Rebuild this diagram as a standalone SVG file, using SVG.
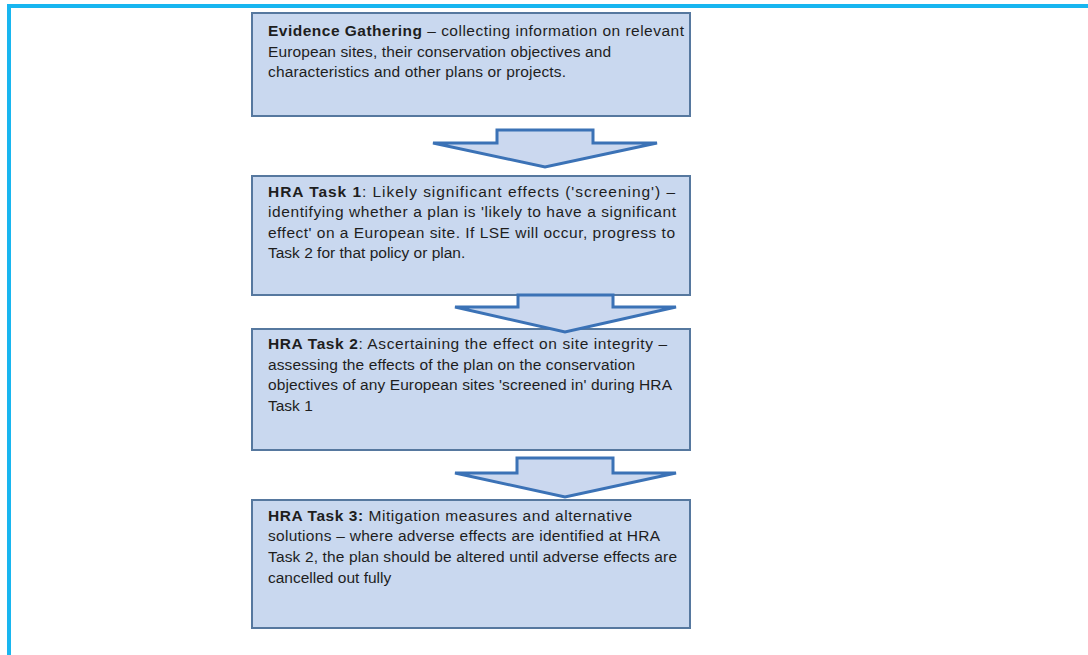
<svg xmlns="http://www.w3.org/2000/svg" width="1088" height="655" viewBox="0 0 1088 655">
<style>
.box{fill:#c9d8ef;stroke:#56789f;stroke-width:2}
.arr{fill:#cbd8ef;stroke:#3b72b6;stroke-width:3;stroke-linejoin:miter}
text{font-family:"Liberation Sans",Arial,sans-serif;font-size:15.5px;fill:#1e1e1e}
.b{font-weight:bold}
</style>
<rect x="0" y="0" width="1088" height="655" fill="#ffffff"/>
<rect x="9" y="6" width="1100" height="700" fill="none" stroke="#18b6f0" stroke-width="4"/>
<g id="box1">
<rect class="box" x="252" y="13" width="438" height="103"/>
<text x="268" y="36" textLength="416" lengthAdjust="spacing"><tspan class="b">Evidence Gathering</tspan> – collecting information on relevant</text>
<text x="268" y="57" textLength="343" lengthAdjust="spacing">European sites, their conservation objectives and</text>
<text x="268" y="77" textLength="298" lengthAdjust="spacing">characteristics and other plans or projects.</text>
</g>
<g id="box2">
<rect class="box" x="252" y="176" width="438" height="119"/>
<text x="268" y="197" textLength="407" lengthAdjust="spacing"><tspan class="b">HRA Task 1</tspan>:  Likely significant effects ('screening') –</text>
<text x="268" y="217" textLength="408" lengthAdjust="spacing">identifying whether a plan is 'likely to have a significant</text>
<text x="268" y="238" textLength="407" lengthAdjust="spacing">effect' on a European site. If LSE will occur, progress to</text>
<text x="268" y="258">Task 2 for that policy or plan.</text>
</g>
<g id="box3">
<rect class="box" x="252" y="329" width="438" height="121"/>
<text x="268" y="349" textLength="399" lengthAdjust="spacing"><tspan class="b">HRA Task 2</tspan>:  Ascertaining the effect on site integrity –</text>
<text x="268" y="370" textLength="367" lengthAdjust="spacing">assessing the effects of the plan on the conservation</text>
<text x="268" y="390" textLength="404" lengthAdjust="spacing">objectives of any European sites 'screened in' during HRA</text>
<text x="268" y="411">Task 1</text>
</g>
<g id="box4">
<rect class="box" x="252" y="500" width="438" height="128"/>
<text x="268" y="521" textLength="364" lengthAdjust="spacing"><tspan class="b">HRA Task 3:</tspan>  Mitigation measures and alternative</text>
<text x="268" y="541" textLength="392" lengthAdjust="spacing">solutions – where adverse effects are identified at HRA</text>
<text x="268" y="562" textLength="409" lengthAdjust="spacing">Task 2, the plan should be altered until adverse effects are</text>
<text x="268" y="583">cancelled out fully</text>
</g>
<g id="connectors">
<polygon class="arr" points="497,130 593,130 593,143 657,143 545,167 433,143 497,143"/>
<polygon class="arr" points="518,295 613,295 613,307 676,307 565,332 455,307 518,307"/>
<polygon class="arr" points="517,458 613,458 613,473 676,473 565,497 455,473 517,473"/>
</g>
</svg>
